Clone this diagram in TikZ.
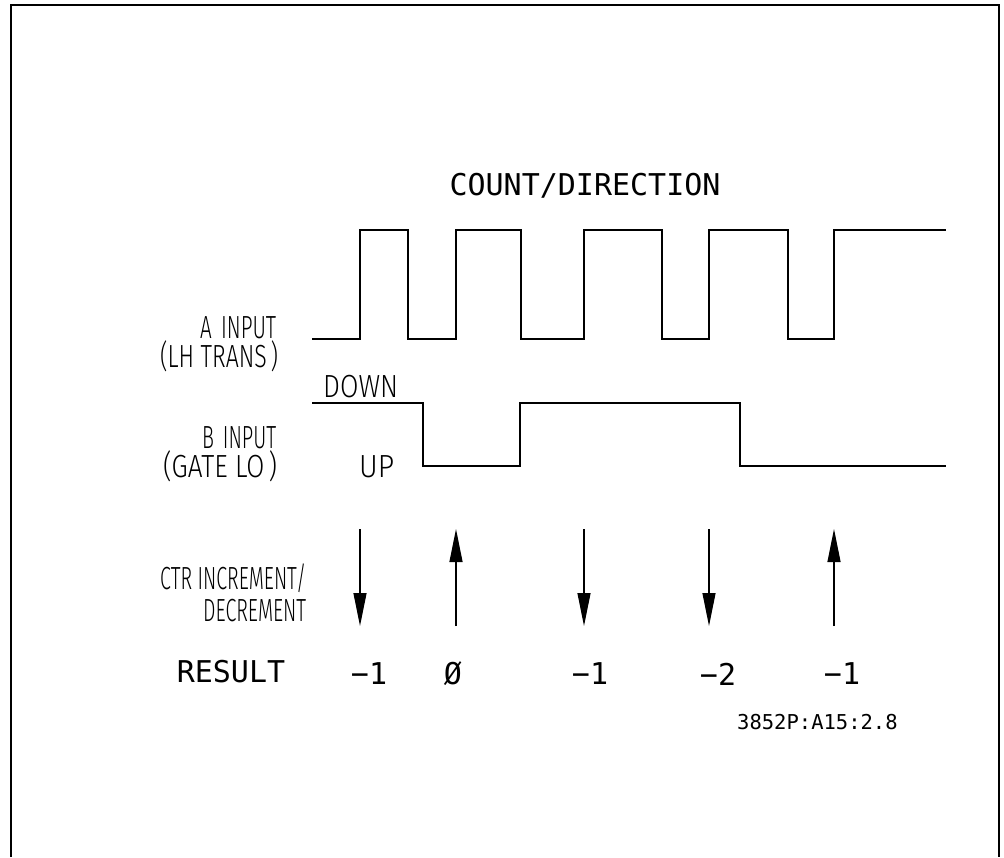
\documentclass[tikz,border=0pt]{standalone}
\usepackage{fontspec}
\usepackage{graphicx}
\usetikzlibrary{arrows.meta}
\newfontfamily\plotfont{DejaVu Sans Mono}
\newfontfamily\lblfont{Fira Sans Light}
\newcommand{\fitw}[2]{\resizebox{#1}{\height}{#2}}
\begin{document}
\begin{tikzpicture}[x=1pt,y=-1pt]
\useasboundingbox (0,0) rectangle (1004,857);
\tikzset{
  wave/.style={line width=1.4pt, line join=miter},
  lbl/.style={font=\lblfont\fontsize{32}{32}\selectfont, inner sep=0pt},
  plt/.style={font=\plotfont\fontsize{30}{30}\selectfont, inner sep=0pt},
  idtxt/.style={font=\plotfont\fontsize{20.5}{20.5}\selectfont, inner sep=0pt},
  cnt/.style={line width=1.2pt, -{Triangle[length=33pt,width=13pt]}},
  frameline/.style={line width=2pt}
}
% frame
\coordinate (fbl) at (11,857);
\coordinate (ftl) at (11,5);
\coordinate (ftr) at (999,5);
\coordinate (fbr) at (999,857);
\draw[frameline] (fbl) -- (ftl) -- (ftr) -- (fbr);

% title
\node[plt] (title) at (585,186) {COUNT/DIRECTION};

% labels
\node[lbl, anchor=base west] (ain) at (200,338) {\fitw{76pt}{A\, INPUT}};
\node[lbl, anchor=base west] (alh) at (160,367) {\fitw{118pt}{(LH TRANS\,)}};
\node[lbl, anchor=base west] (down) at (323,397) {\fitw{75pt}{DOWN}};
\node[lbl, anchor=base west] (bin) at (202,448) {\fitw{74pt}{B\, INPUT}};
\node[lbl, anchor=base west] (bgl) at (163,477) {\fitw{114pt}{(GATE LO\,)}};
\node[lbl, anchor=base west] (up) at (359,477) {\fitw{35pt}{UP}};
\node[lbl, anchor=base west] (ctr) at (160,589) {\fitw{146pt}{CTR INCREMENT/}};
\node[lbl, anchor=base west] (dec) at (203,621) {\fitw{103pt}{DECREMENT}};

% A waveform
\draw[wave] (312,339) -- (360,339) -- (360,230) -- (408,230) -- (408,339)
  -- (456,339) -- (456,230) -- (521,230) -- (521,339)
  -- (584,339) -- (584,230) -- (662,230) -- (662,339)
  -- (709,339) -- (709,230) -- (788,230) -- (788,339)
  -- (834,339) -- (834,230) -- (946,230);

% B waveform
\draw[wave] (312,403) -- (423,403) -- (423,466) -- (520,466) -- (520,403)
  -- (740,403) -- (740,466) -- (946,466);

% count arrows
\coordinate (a1t) at (360,529); \coordinate (a1b) at (360,626);
\coordinate (a2t) at (456,529); \coordinate (a2b) at (456,626);
\coordinate (a3t) at (584,529); \coordinate (a3b) at (584,626);
\coordinate (a4t) at (709,529); \coordinate (a4b) at (709,626);
\coordinate (a5t) at (834,529); \coordinate (a5b) at (834,626);
\draw[cnt] (a1t) -- (a1b);
\draw[cnt] (a2b) -- (a2t);
\draw[cnt] (a3t) -- (a3b);
\draw[cnt] (a4t) -- (a4b);
\draw[cnt] (a5b) -- (a5t);

% results
\node[plt] (res) at (231,672) {RESULT};
\node[plt] (r1) at (369,674) {−1};
\node[plt] (r2) at (453,674) {Ø};
\node[plt] (r3) at (590,674) {−1};
\node[plt] (r4) at (718,674) {−2};
\node[plt] (r5) at (842,674) {−1};

\node[idtxt, anchor=west] (id) at (737,722) {3852P:A15:2.8};
\end{tikzpicture}
\end{document}
